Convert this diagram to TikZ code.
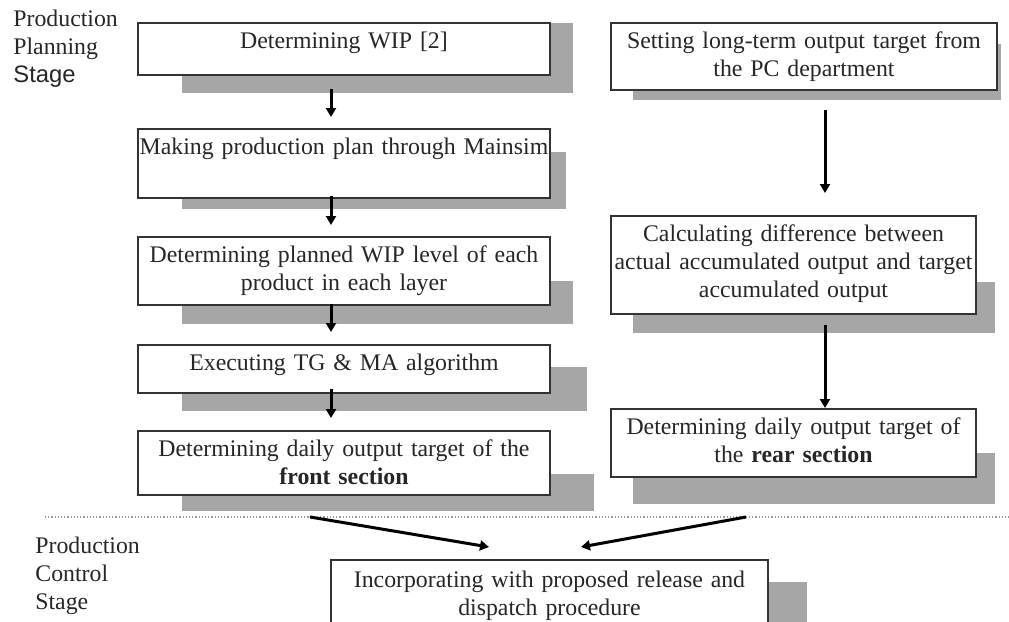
\documentclass[tikz,border=0pt]{standalone}
\usepackage{fontspec}
\setmainfont{Liberation Serif}
\setsansfont{Liberation Sans}
\usetikzlibrary{arrows.meta,calc}

\begin{document}
\begin{tikzpicture}[x=0.5pt,y=-0.5pt,font=\fontsize{11.9pt}{14pt}\selectfont]
      \tikzstyle{box} = [rectangle, draw=black!80, line width=1pt, fill=white, align=center, inner sep=0pt, text height=12.75pt, anchor=north west, text=black!85]
      \tikzstyle{flow} = [line width=1.5pt, -{Triangle[length=4.5pt,width=5pt]}]
      \tikzstyle{stage} = [anchor=base west, text width=60pt, align=left, inner sep=0pt, text=black!85]
      \tikzstyle{shade} = [fill=black!35]
      \clip (0,0) rectangle (1009,622);
      % stage labels
      \node (plan) [stage] at (13,26) {Production\\Planning\\{\sffamily Stage}};
      \node (ctrl) [stage] at (35,553) {Production\\Control\\Stage};
      % shadows
      \fill[shade] (182,23) rectangle (573,93);
      \fill[shade] (182,152) rectangle (566,209);
      \fill[shade] (182,281) rectangle (573,324);
      \fill[shade] (182,367) rectangle (587,411);
      \fill[shade] (182,474) rectangle (594,511);
      \fill[shade] (633,44) rectangle (1001,100);
      \fill[shade] (633,282) rectangle (995,333);
      \fill[shade] (633,453) rectangle (995,504);
      \fill[shade] (375,582) rectangle (807,640);
      % front section column
      \node (wip) [box, text width=206pt, text depth=13.25pt] at (137,22) {Determining WIP [2]};
      \node (mainsim) [box, text width=206pt, text depth=21.75pt] at (137,128) {Making production plan through Mainsim};
      \node (level) [box, text width=206pt, text depth=21.25pt] at (137,236) {Determining planned WIP level of each\\product in each layer};
      \node (tgma) [box, text width=206pt, text depth=11.25pt] at (137,344) {Executing TG \& MA algorithm};
      \node (front) [box, text width=206pt, text depth=19.25pt] at (137,430) {Determining daily output target of the\\\textbf{front section}};
      % rear section column
      \node (target) [box, text width=193pt, text depth=20.75pt] at (610,22) {Setting long-term output target from\\the PC department};
      \node (diff) [box, text width=182.5pt, text depth=36.25pt] at (610,215) {Calculating difference between\\actual accumulated output and target\\accumulated output};
      \node (rear) [box, text width=182.5pt, text depth=21.25pt] at (610,408) {Determining daily output target of\\the \textbf{rear section}};
      % control stage
      \node (release) [box, text width=218.5pt, text height=13.5pt, text depth=27pt] at (330,559) {Incorporating with proposed release and\\dispatch procedure};
      \coordinate (lx) at (331,0);
      \coordinate (rx) at (825,0);
      \draw [densely dotted, black!40, line width=0.6pt] (45,517) -- (1009,517);
      \draw [flow, shorten <=6.5pt, shorten >=5.5pt] (wip.south -| lx) -- (mainsim.north -| lx);
      \draw [flow, shorten <=-1.5pt, shorten >=5.5pt] (mainsim.south -| lx) -- (level.north -| lx);
      \draw [flow, shorten <=-1pt, shorten >=6pt] (level.south -| lx) -- (tgma.north -| lx);
      \draw [flow, shorten <=-2.5pt, shorten >=6pt] (tgma.south -| lx) -- (front.north -| lx);
      \draw [flow, shorten <=9.5pt, shorten >=11pt] (target.south -| rx) -- (diff.north -| rx);
      \draw [flow, shorten <=5pt] (diff.south -| rx) -- (rear.north -| rx);
      \draw [flow] ($(front.south)+(-34,21)$) -- ($(release.north)+(-60.5,-12)$);
      \draw [flow] ($(rear.south)+(-47.5,39)$) -- ($(release.north)+(31.5,-12)$);
    \end{tikzpicture}
\end{document}
